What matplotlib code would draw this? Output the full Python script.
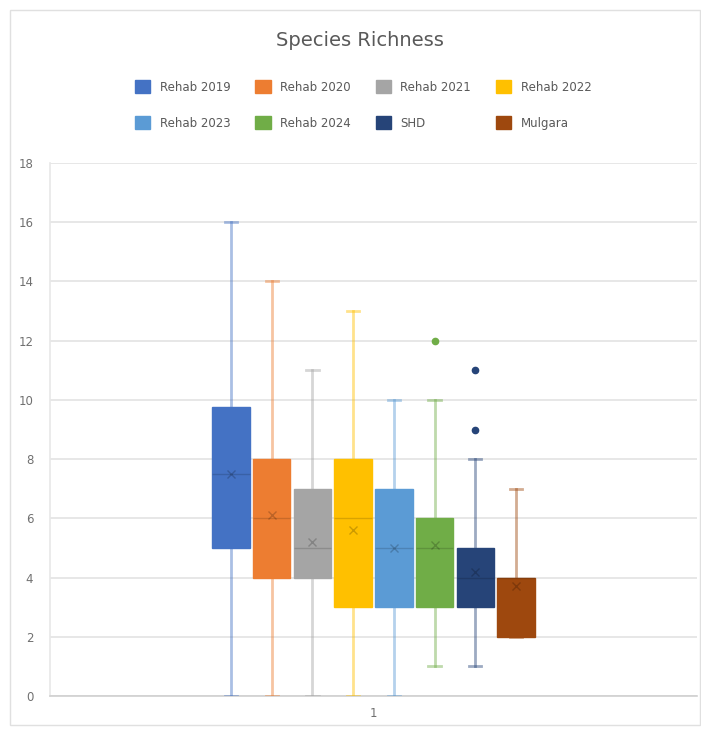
import matplotlib
matplotlib.use("Agg")
import matplotlib.pyplot as plt
from matplotlib.patches import Patch, Rectangle

series = ["Rehab 2019", "Rehab 2020", "Rehab 2021", "Rehab 2022",
          "Rehab 2023", "Rehab 2024", "SHD", "Mulgara"]
colors = ["#4472C4", "#ED7D31", "#A5A5A5", "#FFC000",
          "#5B9BD5", "#70AD47", "#264478", "#9E480E"]
whisker_low = [0, 0, 0, 0, 0, 1, 1, 2]
q1 = [5, 4, 4, 3, 3, 3, 3, 2]
median = [7.5, 6, 5, 6, 5, 5, 4, 4]
q3 = [9.75, 8, 7, 8, 7, 6, 5, 4]
whisker_high = [16, 14, 11, 13, 10, 10, 8, 7]
means = [7.5, 6.1, 5.2, 5.6, 5.0, 5.1, 4.2, 3.7]
outliers = [[], [], [], [], [], [12], [9, 11], []]
yticks = [0, 2, 4, 6, 8, 10, 12, 14, 16, 18]
category = "1"

fig = plt.figure(figsize=(7.01, 7.34), dpi=100)
ax = fig.add_axes([50/701, 38/734, 647/701, 533/734])

n = len(series)
positions = [i - (n - 1) / 2 for i in range(n)]
for i in range(n):
    st = dict(whislo=whisker_low[i], q1=q1[i], med=median[i], q3=q3[i],
              whishi=whisker_high[i], mean=means[i], fliers=outliers[i], label="")
    c = colors[i]
    ax.bxp([st], positions=[positions[i]], widths=0.92, patch_artist=True,
           showmeans=True, meanline=False,
           boxprops=dict(facecolor=c, edgecolor=c, linewidth=1),
           medianprops=dict(color="black", alpha=0.15, linewidth=1),
           whiskerprops=dict(color=c, alpha=0.45, linewidth=2),
           capprops=dict(color=c, alpha=0.45, linewidth=2),
           capwidths=0.3,
           meanprops=dict(marker="x", markeredgecolor="black", alpha=0.2,
                          markersize=6, markeredgewidth=1),
           flierprops=dict(marker="o", markerfacecolor=c, markeredgecolor=c,
                           markersize=4.5),
           zorder=3)

ax.set_xlim(-7.95, 7.95)
ax.set_ylim(0, 18)
ax.set_yticks(yticks)
ax.set_yticklabels([str(v) for v in yticks])
ax.set_xticks([0])
ax.set_xticklabels([category])
ax.yaxis.grid(True, color="#E3E3E3", linewidth=1.2, zorder=0)
ax.set_axisbelow(True)
for s in ["top", "right"]:
    ax.spines[s].set_visible(False)
ax.spines["left"].set_color("#E8E8E8")
ax.spines["bottom"].set_color("#D0D0D0")
ax.spines["left"].set_linewidth(1.2)
ax.spines["bottom"].set_linewidth(1.2)
ax.tick_params(axis="both", length=0, colors="#707070", labelsize=8.5, pad=8)
ax.tick_params(axis="y", pad=12)

fig.text(0.513, 1 - 40/734, "Species Richness", ha="center", va="center",
         fontsize=14, color="#595959")

# legend filled row by row (matplotlib fills column-wise)
order = [0, 4, 1, 5, 2, 6, 3, 7]
handles = [Patch(facecolor=colors[k], edgecolor=colors[k]) for k in order]
labels = [series[k] for k in order]
leg = fig.legend(handles, labels, ncol=4, loc="center",
                 bbox_to_anchor=(0.518, 1 - 105/734), frameon=False,
                 fontsize=8.5, handlelength=1.3, handleheight=1.3,
                 columnspacing=2.1, labelspacing=1.9, handletextpad=0.8)
for t in leg.get_texts():
    t.set_color("#595959")

fig.patches.append(Rectangle((10/701, 1 - 725/734), 690/701, 715/734,
                             transform=fig.transFigure, fill=False,
                             edgecolor="#E0E0E0", linewidth=1))

fig.savefig("out.png", dpi=100, facecolor="white")
